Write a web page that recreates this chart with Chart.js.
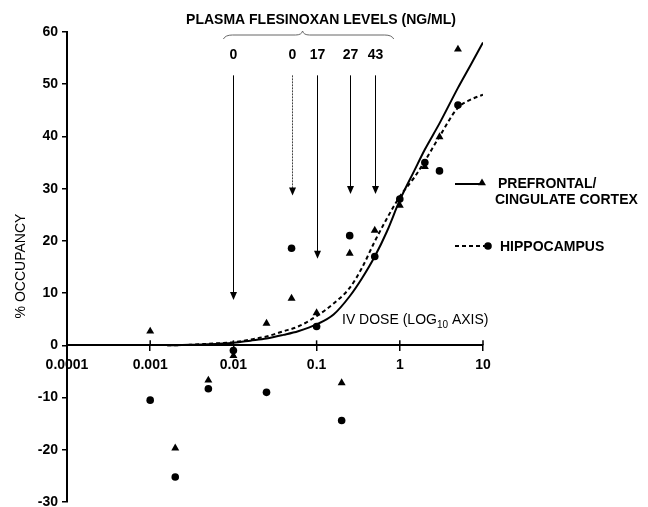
<!DOCTYPE html>
<html>
<head>
<meta charset="utf-8">
<script src="https://cdn.jsdelivr.net/npm/chart.js@4.4.0/dist/chart.umd.min.js"></script>
<style>
  html, body { margin: 0; padding: 0; background: #fff; }
  #wrap { width: 648px; height: 507px; }
</style>
</head>
<body>
<div id="wrap"><canvas id="chart"></canvas></div>
<script>
// measured doses (log axis)
const doses = [0.001, 0.002, 0.005, 0.01, 0.025, 0.05, 0.1, 0.2, 0.25, 0.5, 1, 2, 3, 5];
const prefrontal = [2.7, -19.7, -6.7, -2, 4.2, 9, 6.2, -7.2, 17.6, 22, 26.8, 34.2, 39.9, 56.7];
const hippocampus = [-10.5, -25.2, -8.3, -1, -9, 18.6, 3.6, -14.4, 21, 17, 28, 35, 33.4, 46];

// fitted curves
const curveDoses = [0.0016, 0.003, 0.005, 0.01, 0.016, 0.025, 0.04, 0.06, 0.1, 0.16, 0.25, 0.35, 0.5, 0.7, 1, 1.5, 2, 3, 5, 7, 10];
const prefrontalFit = [0, 0.1, 0.2, 0.5, 0.9, 1.3, 2.0, 2.7, 4.0, 5.9, 9.4, 12.8, 17, 21.8, 27.8, 33.5, 37.5, 42.5, 49.3, 53.5, 58];
const hippocampusFit = [0, 0.1, 0.3, 0.6, 1.1, 1.7, 2.7, 3.6, 5.6, 8, 11, 14.8, 19.9, 24.3, 28.5, 32.2, 35.3, 40, 45.5, 47, 48];

// plasma level arrows
const arrowDoses = [0.01, 0.05, 0.1, 0.25, 0.5];
const arrowLabels = ['0', '0', '17', '27', '43'];
const arrowEnds = [8.7, 28.7, 16.6, 29, 29];
const arrowTop = 51.7;

const xTickValues = [0.0001, 0.001, 0.01, 0.1, 1, 10];
const xTickLabels = ['0.0001', '0.001', '0.01', '0.1', '1', '10'];

const toPoints = (xs, ys) => xs.map((x, i) => ({ x: x, y: ys[i] }));

const BOLD = 'bold 14px "Liberation Sans", Arial, sans-serif';
const REG = '14px "Liberation Sans", Arial, sans-serif';

function drawTri(ctx, x, y, r) {
  ctx.beginPath();
  ctx.moveTo(x, y - r);
  ctx.lineTo(x + r * 0.866, y + r * 0.5);
  ctx.lineTo(x - r * 0.866, y + r * 0.5);
  ctx.closePath();
  ctx.fill();
}

const extras = {
  id: 'extras',
  afterDraw(chart) {
    const ctx = chart.ctx;
    const xs = chart.scales.x, ys = chart.scales.y;
    ctx.save();
    ctx.fillStyle = '#000';
    ctx.strokeStyle = '#000';

    // upper halves of the x tick marks
    ctx.lineWidth = 1.5;
    const y0 = ys.getPixelForValue(0);
    xTickValues.forEach(v => {
      const px = xs.getPixelForValue(v);
      ctx.beginPath();
      ctx.moveTo(px, y0 - 5);
      ctx.lineTo(px, y0);
      ctx.stroke();
    });

    // title
    ctx.font = BOLD;
    ctx.textAlign = 'center';
    ctx.textBaseline = 'middle';
    ctx.fillText('PLASMA FLESINOXAN LEVELS (NG/ML)', 321, 20);

    // brace
    const bx1 = xs.getPixelForValue(arrowDoses[0]) - 10;
    const bx2 = xs.getPixelForValue(arrowDoses[arrowDoses.length - 1]) + 19;
    const bm = (bx1 + bx2) / 2 - 6;
    ctx.strokeStyle = '#666';
    ctx.lineWidth = 1;
    ctx.beginPath();
    ctx.moveTo(bx1, 39);
    ctx.quadraticCurveTo(bx1 + 2, 35, bx1 + 9, 35);
    ctx.lineTo(bm - 7, 35);
    ctx.quadraticCurveTo(bm - 1, 35, bm, 31);
    ctx.quadraticCurveTo(bm + 1, 35, bm + 7, 35);
    ctx.lineTo(bx2 - 9, 35);
    ctx.quadraticCurveTo(bx2 - 2, 35, bx2, 39);
    ctx.stroke();

    // arrows with plasma levels
    arrowDoses.forEach((d, i) => {
      const px = Math.round(xs.getPixelForValue(d)) + 0.5;
      const top = ys.getPixelForValue(arrowTop);
      const tip = ys.getPixelForValue(arrowEnds[i]);
      ctx.fillStyle = '#000';
      ctx.font = BOLD;
      ctx.fillText(arrowLabels[i], px, 55);
      ctx.strokeStyle = i === 1 ? '#444' : '#000';
      ctx.lineWidth = 1;
      ctx.setLineDash(i === 1 ? [2, 1] : []);
      ctx.beginPath();
      ctx.moveTo(px, top);
      ctx.lineTo(px, tip - 6);
      ctx.stroke();
      ctx.setLineDash([]);
      ctx.beginPath();
      ctx.moveTo(px - 3.5, tip - 8);
      ctx.lineTo(px + 3.5, tip - 8);
      ctx.lineTo(px, tip);
      ctx.closePath();
      ctx.fill();
    });

    // x axis caption
    ctx.fillStyle = '#000';
    ctx.textAlign = 'left';
    ctx.font = REG;
    let tx = 342;
    ctx.fillText('IV DOSE (LOG', tx, 320);
    tx += ctx.measureText('IV DOSE (LOG').width;
    ctx.font = '10px "Liberation Sans", Arial, sans-serif';
    ctx.fillText('10', tx, 325);
    tx += ctx.measureText('10').width;
    ctx.font = REG;
    ctx.fillText(' AXIS)', tx, 320);

    // y axis caption
    ctx.save();
    ctx.translate(21, 266);
    ctx.rotate(-Math.PI / 2);
    ctx.textAlign = 'center';
    ctx.fillText('% OCCUPANCY', 0, 0);
    ctx.restore();

    // legend
    ctx.lineWidth = 2;
    ctx.strokeStyle = '#000';
    ctx.beginPath();
    ctx.moveTo(455, 184);
    ctx.lineTo(480, 184);
    ctx.stroke();
    drawTri(ctx, 482, 183, 4.6);
    ctx.setLineDash([4, 3]);
    ctx.beginPath();
    ctx.moveTo(455, 246);
    ctx.lineTo(486, 246);
    ctx.stroke();
    ctx.setLineDash([]);
    ctx.beginPath();
    ctx.arc(488, 246, 3.8, 0, Math.PI * 2);
    ctx.fill();
    ctx.font = BOLD;
    ctx.textAlign = 'left';
    ctx.fillText('PREFRONTAL/', 498, 184);
    ctx.fillText('CINGULATE CORTEX', 495, 200);
    ctx.fillText('HIPPOCAMPUS', 500, 247);

    ctx.restore();
  }
};

new Chart(document.getElementById('chart'), {
  type: 'scatter',
  data: {
    datasets: [
      {
        label: 'Prefrontal/cingulate cortex',
        data: toPoints(doses, prefrontal),
        pointStyle: 'triangle',
        pointRadius: 4.6,
        backgroundColor: '#000',
        borderColor: '#000',
        borderWidth: 0,
        showLine: false
      },
      {
        label: 'Hippocampus',
        data: toPoints(doses, hippocampus),
        pointStyle: 'circle',
        pointRadius: 3.8,
        backgroundColor: '#000',
        borderColor: '#000',
        borderWidth: 0,
        showLine: false
      },
      {
        label: 'Prefrontal fit',
        data: toPoints(curveDoses, prefrontalFit),
        showLine: true,
        pointRadius: 0,
        borderColor: '#000',
        borderWidth: 2,
        cubicInterpolationMode: 'monotone'
      },
      {
        label: 'Hippocampus fit',
        data: toPoints(curveDoses, hippocampusFit),
        showLine: true,
        pointRadius: 0,
        borderColor: '#000',
        borderWidth: 2,
        borderDash: [4, 3],
        cubicInterpolationMode: 'monotone'
      }
    ]
  },
  options: {
    responsive: true,
    maintainAspectRatio: false,
    animation: false,
    devicePixelRatio: 1,
    layout: { padding: { left: 0, right: 165, top: 32, bottom: 5 } },
    plugins: {
      legend: { display: false },
      tooltip: { enabled: false }
    },
    scales: {
      x: {
        type: 'logarithmic',
        min: 0.0001,
        max: 10,
        position: { y: 0 },
        afterBuildTicks: s => { s.ticks = xTickValues.map(v => ({ value: v })); },
        afterFit: s => { s.paddingTop = 0; s.paddingBottom = 0; },
        border: { color: '#000', width: 2 },
        grid: { drawOnChartArea: false, color: '#000', lineWidth: 1.5, tickLength: 5 },
        ticks: {
          color: '#000',
          font: { family: '"Liberation Sans", Arial, sans-serif', size: 14, weight: 'bold' },
          padding: 6,
          maxRotation: 0,
          autoSkip: false,
          callback: v => xTickLabels[xTickValues.indexOf(v)]
        }
      },
      y: {
        min: -30,
        max: 60,
        afterFit: s => { s.width = 67; s.paddingTop = 0; s.paddingBottom = 0; },
        border: { color: '#000', width: 2 },
        grid: { drawOnChartArea: false, color: '#000', lineWidth: 1.5, tickLength: 5 },
        ticks: {
          stepSize: 10,
          color: '#000',
          font: { family: '"Liberation Sans", Arial, sans-serif', size: 14, weight: 'bold' },
          padding: 4
        }
      }
    }
  },
  plugins: [extras]
});
</script>
</body>
</html>
